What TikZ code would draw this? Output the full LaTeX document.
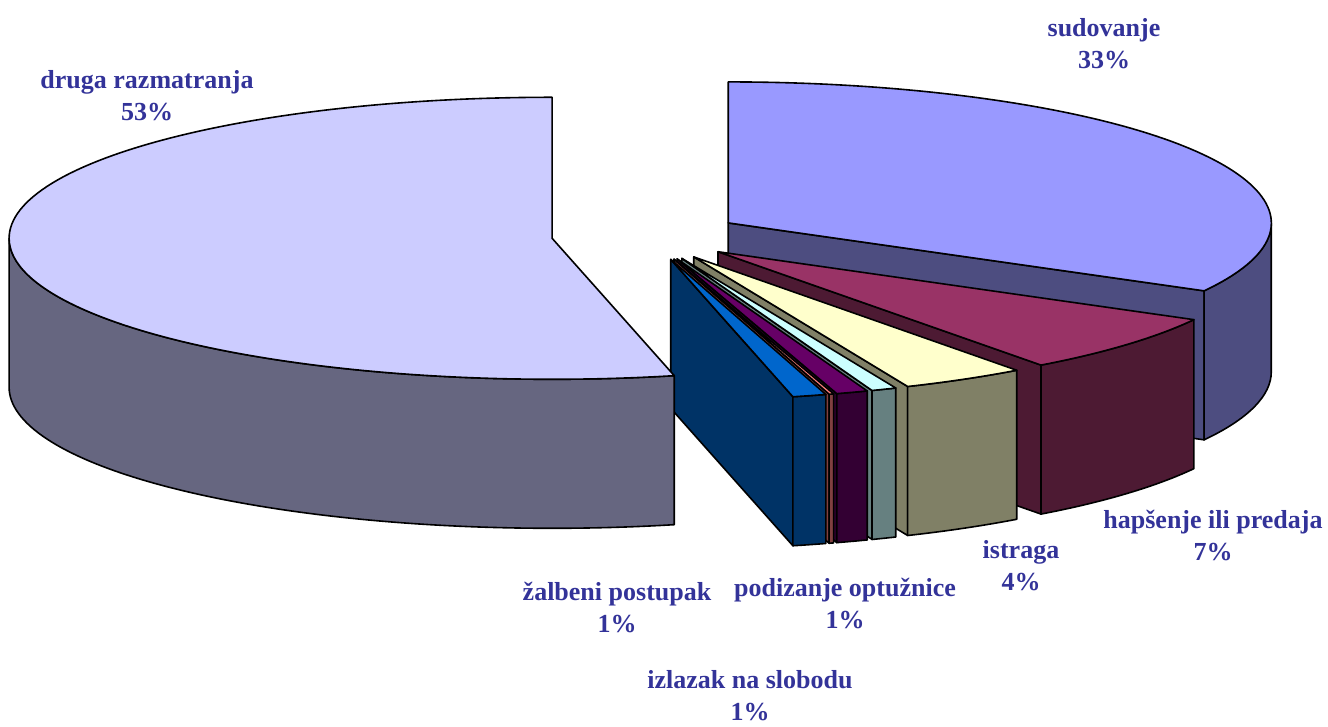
\documentclass[tikz,border=0pt]{standalone}
\usepackage{fontspec}
\setmainfont{Liberation Serif}
\usetikzlibrary{calc}

\definecolor{drugaTop}{HTML}{CCCCFF}
\definecolor{drugaSide}{HTML}{666680}
\definecolor{sudTop}{HTML}{9999FF}
\definecolor{sudSide}{HTML}{4D4D80}
\definecolor{hapTop}{HTML}{993366}
\definecolor{hapSide}{HTML}{4D1A33}
\definecolor{istTop}{HTML}{FFFFCC}
\definecolor{istSide}{HTML}{808066}
\definecolor{podTop}{HTML}{CCFFFF}
\definecolor{podSide}{HTML}{668080}
\definecolor{izlTop}{HTML}{660066}
\definecolor{izlSide}{HTML}{330033}
\definecolor{ostTop}{HTML}{FF8080}
\definecolor{ostSide}{HTML}{804040}
\definecolor{zalTop}{HTML}{0066CC}
\definecolor{zalSide}{HTML}{003366}
\definecolor{labelblue}{HTML}{333399}

\begin{document}
\begin{tikzpicture}[x=1pt,y=1pt]
        \tikzset{face/.style={draw=black,line width=1.6pt,line join=round},
            pielabel/.style={text=labelblue,align=center,inner sep=0pt,
                font=\fontsize{26}{32}\selectfont\bfseries}}
        \useasboundingbox (0,0) rectangle (1328,727);
        \coordinate (C) at (646.5,491.5);
        % slices, back to front
        \foreach \sa/\sb/\topc/\sidec/\cutf in {331.2/450/sudTop/sudSide/1,
                306.5/331.2/hapTop/hapSide/1, 293.2/306.5/istTop/istSide/1,
                290.5/293.2/podTop/podSide/1, 287.1/290.5/izlTop/izlSide/1,
                286.6/287.1/ostTop/ostSide/1, 283/286.6/zalTop/zalSide/1,
                90/283/drugaTop/drugaSide/0}{
            \pgfmathsetmacro\sm{(\sa+\sb)/2}
            \pgfmathsetmacro\ra{max(\sa,180)}
            \pgfmathsetmacro\rb{min(\sb,360)}
            \coordinate (apex) at ($(C)+(\sm:95 and 24.7)$);
            \ifnum\cutf=1
                \filldraw[face,fill=\sidec] (apex) -- ($(apex)+(\sa:543 and 141)$)
                    -- ++(0,-149) -- ($(apex)+(0,-149)$) -- cycle;
            \fi
            \filldraw[face,fill=\sidec] ($(apex)+(\ra:543 and 141)$)
                arc[start angle=\ra,end angle=\rb,x radius=543,y radius=141]
                -- ++(0,-149)
                arc[start angle=\rb,end angle=\ra,x radius=543,y radius=141] -- cycle;
            \filldraw[face,fill=\topc] (apex) -- ($(apex)+(\sa:543 and 141)$)
                arc[start angle=\sa,end angle=\sb,x radius=543,y radius=141] -- cycle;
        }
        % labels
        \node[pielabel] (druga) at (147,631) {druga razmatranja\\53\%};
        \node[pielabel] (sud) at (1104,683) {sudovanje\\33\%};
        \node[pielabel] (hap) at (1213,191) {hapšenje ili predaja\\7\%};
        \node[pielabel] (ist) at (1021,161) {istraga\\4\%};
        \node[pielabel] (pod) at (845,123) {podizanje optužnice\\1\%};
        \node[pielabel] (zal) at (617,119) {žalbeni postupak\\1\%};
        \node[pielabel] (izl) at (750,31) {izlazak na slobodu\\1\%};
    \end{tikzpicture}
\end{document}
